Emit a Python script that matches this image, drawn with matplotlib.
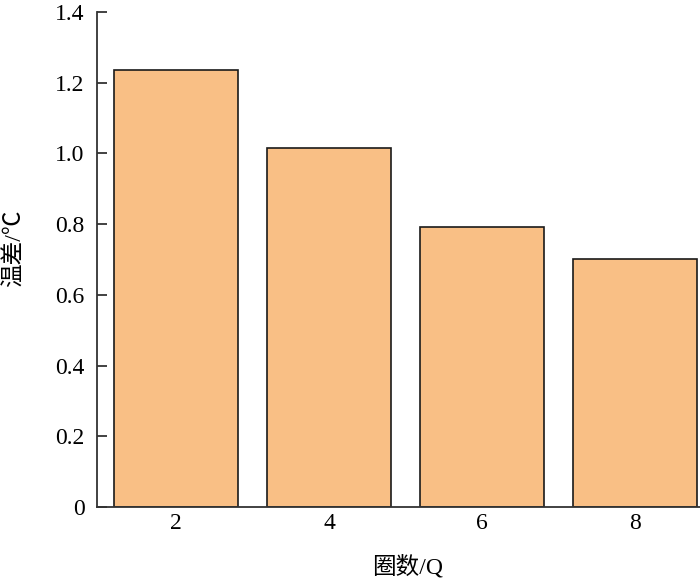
import matplotlib
matplotlib.use("Agg")
import matplotlib.pyplot as plt

categories = ["2", "4", "6", "8"]
values = [1.235, 1.015, 0.792, 0.701]
yticks = [0, 0.2, 0.4, 0.6, 0.8, 1.0, 1.2, 1.4]
ytick_labels = ["0", "0.2", "0.4", "0.6", "0.8", "1.0", "1.2", "1.4"]

plt.rcParams['font.family'] = ['Liberation Serif', 'Noto Sans CJK SC', 'DejaVu Sans']

fig = plt.figure(figsize=(7.0, 5.85), dpi=100)
ax = fig.add_axes([97/700, 78/585, 603/700, 495/585])

x = list(range(len(categories)))
ax.bar(x, values, width=0.81, color="#F9BF85", edgecolor="#1a1a1a", linewidth=1.2)

ax.set_xlim(-0.516, 3.425)
ax.set_ylim(0, 1.4)
ax.set_xticks(x)
ax.set_xticklabels(categories)
ax.set_yticks(yticks)
ax.set_yticklabels(ytick_labels)

for s in ["top", "right"]:
    ax.spines[s].set_visible(False)
for s in ["left", "bottom"]:
    ax.spines[s].set_linewidth(1.3)
    ax.spines[s].set_color("#333333")

ax.tick_params(axis="y", direction="in", length=7, width=1.3, color="#333333",
               labelsize=17, pad=9)
ax.tick_params(axis="x", length=0, labelsize=17, pad=4)

fig.text(408/700, 1 - 567/585, "圈数/Q", fontsize=17, ha="center", va="center")
fig.text(15/700, 1 - 248/585, "温差/℃", fontsize=17, ha="center", va="center",
         rotation=90)

fig.savefig("out.png", dpi=100)
